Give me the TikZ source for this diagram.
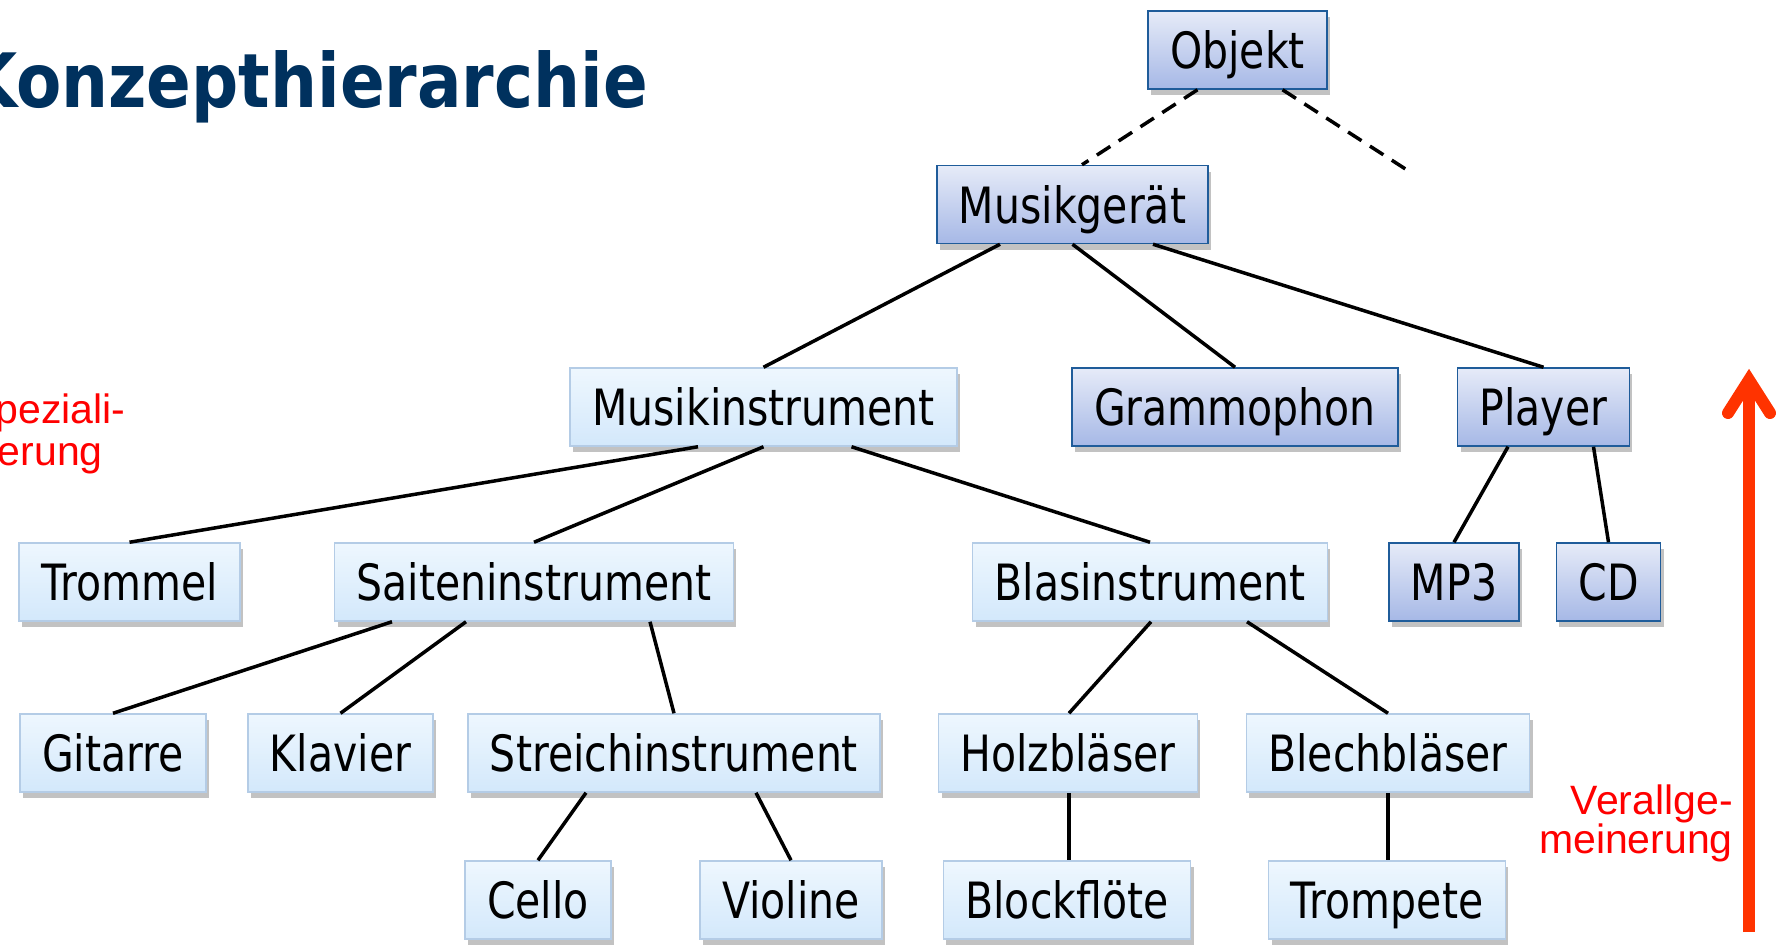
\documentclass[tikz,border=0pt]{standalone}
\usepackage{fontspec}
\usetikzlibrary{shadows}
\newfontfamily\boxfont[FakeStretch=0.82]{DejaVu Sans}
\newfontfamily\titlefont[FakeStretch=0.88]{DejaVu Sans}
\newfontfamily\notefont{Liberation Sans}
\definecolor{lighttop}{HTML}{EEF7FE}
\definecolor{lightbot}{HTML}{D3E8FB}
\definecolor{lightrim}{HTML}{B4CCE6}
\definecolor{darktop}{HTML}{E6EBF8}
\definecolor{darkbot}{HTML}{A6B8E6}
\definecolor{darkrim}{HTML}{1F5C9A}
\definecolor{titleblue}{HTML}{00315E}
\definecolor{arrowred}{HTML}{FF3300}

\begin{document}
\begin{tikzpicture}[x=1pt,y=-1pt,
		concept/.style={draw=lightrim, line width=1.5pt, top color=lighttop, bottom color=lightbot,
			font=\boxfont\fontsize{50}{54}\selectfont, inner xsep=22pt, inner ysep=0pt,
			minimum height=78pt, text height=37pt, text depth=0pt,
			drop shadow={shadow xshift=3pt, shadow yshift=-6pt, fill=black!40, opacity=0.6}},
		device/.style={concept, draw=darkrim, top color=darktop, bottom color=darkbot},
		link/.style={black, line width=3.5pt},
		note/.style={red, font=\notefont\fontsize{41}{43}\selectfont, inner sep=0pt}]
			\useasboundingbox (0,0) rectangle (1781,945);
			% title and side notes
			\node [titleblue, font=\titlefont\bfseries\fontsize{75}{80}\selectfont, inner sep=0pt, anchor=base west] (title) at (-34,107) {Konzepthierarchie};
			\node [note, anchor=base west] (spez1) at (-32,423) {Speziali-};
			\node [note, anchor=base west] (spez2) at (-32,465) {sierung};
			\node [note, anchor=base east] (allg1) at (1733,814) {Verallge-};
			\node [note, anchor=base east] (allg2) at (1733,853) {meinerung};
			% concepts
			\node [device] (obj) at (1237.5,50) {Objekt};
			\node [device] (geraet) at (1072.5,204.5) {Musikgerät};
			\node [concept] (instr) at (763.5,407) {Musikinstrument};
			\node [device] (grammo) at (1235,407) {Grammophon};
			\node [device] (player) at (1543.5,407) {Player};
			\node [concept] (trommel) at (129.5,582) {Trommel};
			\node [concept] (saiten) at (534,582) {Saiteninstrument};
			\node [concept] (blas) at (1150,582) {Blasinstrument};
			\node [device] (mp3) at (1454,582) {MP3};
			\node [device] (cd) at (1608.5,582) {CD};
			\node [concept] (gitarre) at (113,753) {Gitarre};
			\node [concept] (klavier) at (340.5,753) {Klavier};
			\node [concept] (streich) at (674,753) {Streichinstrument};
			\node [concept] (holz) at (1068,753) {Holzbläser};
			\node [concept] (blech) at (1388,753) {Blechbläser};
			\node [concept] (cello) at (538,900) {Cello};
			\node [concept] (violine) at (791,900) {Violine};
			\node [concept] (floete) at (1067,900) {Blockflöte};
			\node [concept] (trompete) at (1387,900) {Trompete};
			\coordinate (objend) at (1407,170);
			% links
			\draw [link, dash pattern=on 16pt off 10pt] ([xshift=-40pt]obj.south) -- ([xshift=9.5pt]geraet.north);
			\draw [link, dash pattern=on 16pt off 10pt] ([xshift=45pt]obj.south) -- (objend);
			\draw [link] ([xshift=-72.5pt]geraet.south) -- (instr.north);
			\draw [link] (geraet.south) -- (grammo.north);
			\draw [link] ([xshift=80.5pt]geraet.south) -- (player.north);
			\draw [link] ([xshift=-65.5pt]instr.south) -- (trommel.north);
			\draw [link] (instr.south) -- (saiten.north);
			\draw [link] ([xshift=88pt]instr.south) -- (blas.north);
			\draw [link] ([xshift=-35.5pt]player.south) -- (mp3.north);
			\draw [link] ([xshift=50pt]player.south) -- (cd.north);
			\draw [link] ([xshift=-142pt]saiten.south) -- (gitarre.north);
			\draw [link] ([xshift=-68pt]saiten.south) -- (klavier.north);
			\draw [link] ([xshift=116pt]saiten.south) -- (streich.north);
			\draw [link] ([xshift=1pt]blas.south) -- ([xshift=1pt]holz.north);
			\draw [link] ([xshift=97pt]blas.south) -- (blech.north);
			\draw [link] ([xshift=-88pt]streich.south) -- (cello.north);
			\draw [link] ([xshift=82pt]streich.south) -- (violine.north);
			\draw [link] ([xshift=1pt]holz.south) -- ([xshift=2pt]floete.north);
			\draw [link] (blech.south) -- ([xshift=1pt]trompete.north);
			% direction arrow
			\coordinate (arrbase) at (1749,932);
			\coordinate (arrtip) at (1749,380);
			\draw [arrowred, line width=12pt] (arrbase) -- ([yshift=-4pt]arrtip);
			\draw [arrowred, line width=12pt, line cap=round] (1728,413) -- (arrtip) -- (1770,413);
		\end{tikzpicture}
\end{document}
